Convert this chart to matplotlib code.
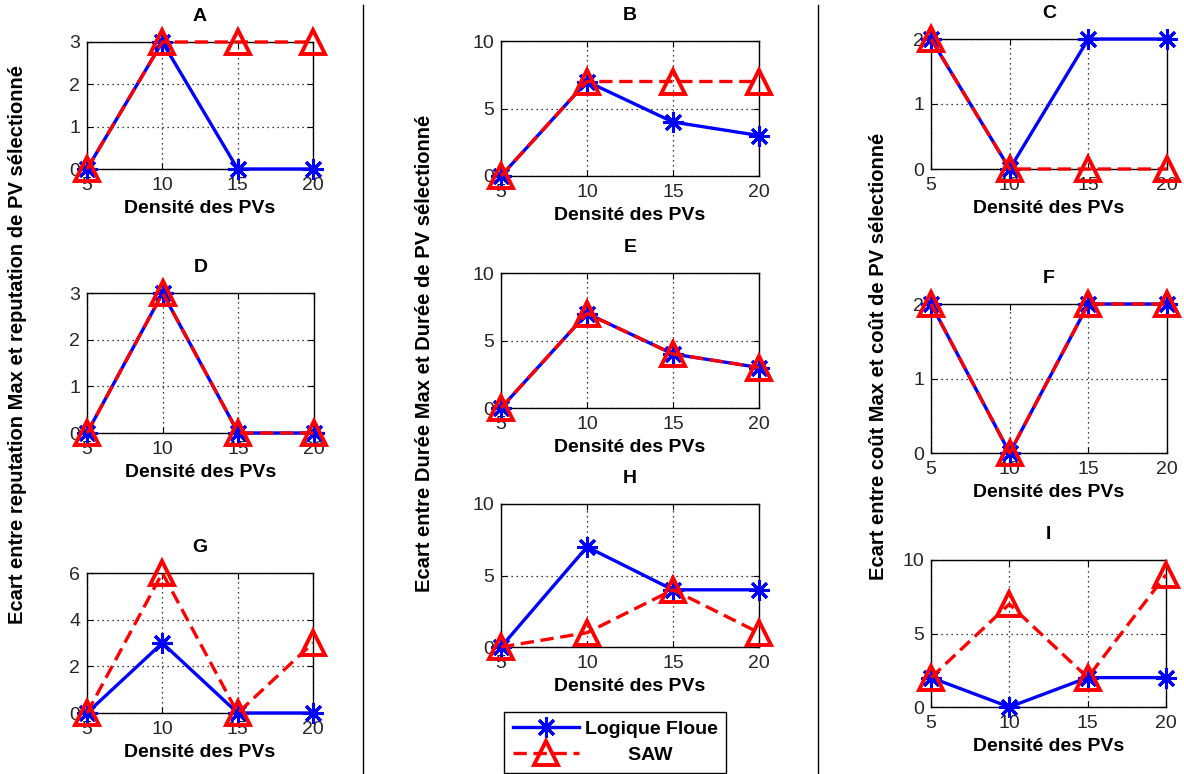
import matplotlib
matplotlib.use("Agg")
import matplotlib.pyplot as plt
from matplotlib.lines import Line2D

plt.rcParams['font.family'] = ['Liberation Sans', 'DejaVu Sans']

# ---- data ----
densite = [5, 10, 15, 20]
panels = ["A", "B", "C", "D", "E", "F", "G", "H", "I"]

lf_A = [0, 3, 0, 0]; saw_A = [0, 3, 3, 3]
lf_B = [0, 7, 4, 3]; saw_B = [0, 7, 7, 7]
lf_C = [2, 0, 2, 2]; saw_C = [2, 0, 0, 0]
lf_D = [0, 3, 0, 0]; saw_D = [0, 3, 0, 0]
lf_E = [0, 7, 4, 3]; saw_E = [0, 7, 4, 3]
lf_F = [2, 0, 2, 2]; saw_F = [2, 0, 2, 2]
lf_G = [0, 3, 0, 0]; saw_G = [0, 6, 0, 3]
lf_H = [0, 7, 4, 4]; saw_H = [0, 1, 4, 1]
lf_I = [2, 0, 2, 2]; saw_I = [2, 7, 2, 9]

ymax_A, ymax_B, ymax_C = 3, 10, 2
ymax_D, ymax_E, ymax_F = 3, 10, 2
ymax_G, ymax_H, ymax_I = 6, 10, 10
ystep_A, ystep_B, ystep_C = 1, 5, 1
ystep_D, ystep_E, ystep_F = 1, 5, 1
ystep_G, ystep_H, ystep_I = 2, 5, 5

xlabel = "Densité des PVs"
ylabel_left = "Ecart entre reputation Max et reputation de PV sélectionné"
ylabel_mid = "Ecart entre Durée Max et Durée de PV sélectionné"
ylabel_right = "Ecart entre coût Max et coût de PV sélectionné"
legend_labels = ["Logique Floue", "SAW"]

series = {
    "A": (lf_A, saw_A, ymax_A, ystep_A), "B": (lf_B, saw_B, ymax_B, ystep_B),
    "C": (lf_C, saw_C, ymax_C, ystep_C), "D": (lf_D, saw_D, ymax_D, ystep_D),
    "E": (lf_E, saw_E, ymax_E, ystep_E), "F": (lf_F, saw_F, ymax_F, ystep_F),
    "G": (lf_G, saw_G, ymax_G, ystep_G), "H": (lf_H, saw_H, ymax_H, ystep_H),
    "I": (lf_I, saw_I, ymax_I, ystep_I),
}

# ---- layout (pixel boxes: left, top, right, bottom) ----
W, H = 1184, 774
boxes = {
    "A": (87, 42, 313, 169), "D": (87, 293, 314, 433), "G": (87, 573, 313, 713),
    "B": (501, 41, 759, 176), "E": (501, 273, 759, 408), "H": (501, 504, 759, 647),
    "C": (931, 39, 1167, 169), "F": (931, 304, 1167, 453), "I": (931, 560, 1166, 707),
}

fig = plt.figure(figsize=(W / 100, H / 100), dpi=100)

tick_color = "#262626"
handles = None
for name in panels:
    l, t, r, b = boxes[name]
    ax = fig.add_axes([l / W, 1 - b / H, (r - l) / W, (b - t) / H])
    lf, saw, ymax, ystep = series[name]
    h1, = ax.plot(densite, lf, color="blue", lw=2.4, marker=(8, 2, 0),
                  ms=15, mew=2.2, clip_on=False, zorder=3)
    h2, = ax.plot(densite, saw, color="red", lw=2.4, ls=(0, (4, 2)), marker="^",
                  ms=17, mew=2.8, mfc="none", mec="red", clip_on=False, zorder=4)
    if handles is None:
        handles = [h1, h2]
    ax.set_xlim(5, 20)
    ax.set_ylim(0, ymax)
    ax.set_xticks(densite)
    ax.set_yticks(list(range(0, ymax + 1, ystep)))
    ax.grid(True, color="black", ls=(0, (1, 3)), lw=0.9)
    ax.tick_params(direction="in", length=4, labelsize=14, labelcolor=tick_color,
                   top=True, right=True)
    ax.tick_params(axis="x", pad=6)
    ax.tick_params(axis="y", pad=5)
    for sp in ax.spines.values():
        sp.set_linewidth(1.0)
    ax.set_title(name, fontsize=14, fontweight="bold", pad=15)
    ax.set_xlabel(xlabel, fontsize=14, fontweight="bold", labelpad=4)

fig.text(18 / W, 1 - 345 / H, ylabel_left, rotation=90, ha="center", va="center",
         fontsize=14.5, fontweight="bold")
fig.text(425 / W, 1 - 353 / H, ylabel_mid, rotation=90, ha="center", va="center",
         fontsize=14.5, fontweight="bold")
fig.text(878 / W, 1 - 356 / H, ylabel_right, rotation=90, ha="center", va="center",
         fontsize=14.5, fontweight="bold")

for xs in (363, 818):
    fig.add_artist(Line2D([xs / W, xs / W], [0, 1 - 5 / H], transform=fig.transFigure,
                          color="black", lw=1.0))

leg_texts = [legend_labels[0], "        " + legend_labels[1]]
leg = fig.legend(handles=handles, labels=leg_texts, loc="lower left",
                 bbox_to_anchor=(504 / W, 1 / H), frameon=True, fancybox=False,
                 edgecolor="black", handlelength=3.4, prop={"weight": "bold", "size": 14},
                 borderpad=0.45, labelspacing=0.45, handletextpad=0.3, borderaxespad=0,
                 framealpha=1)
leg.get_frame().set_linewidth(1.0)

fig.savefig("out.png", dpi=100)
